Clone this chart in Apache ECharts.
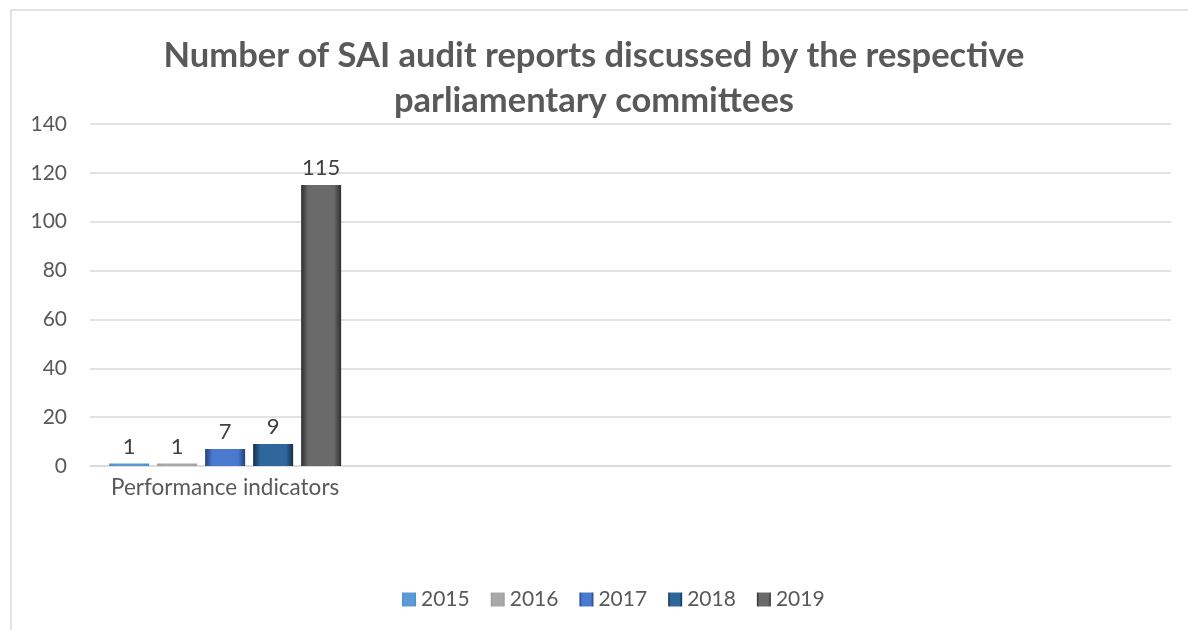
<!DOCTYPE html>
<html><head><meta charset="utf-8">
<script src="https://cdn.jsdelivr.net/npm/echarts@6/dist/echarts.min.js"></script>
<style>html,body{margin:0;padding:0;background:#fff}#c{width:1188px;height:630px}</style>
</head><body><div id="c"></div>
<script>
const titleText = 'Number of SAI audit reports discussed by the respective\nparliamentary committees';
const categories = ['Performance indicators', ' ', '  ', '   '];
const years = ['2015', '2016', '2017', '2018', '2019'];
const values = [1, 1, 7, 9, 115];
const yTicks = { min: 0, max: 140, interval: 20 };

const styles = [
  { edge: '#4f8fcf', mid: '#5b9bd5' },
  { edge: '#9e9e9e', mid: '#a8a8a8' },
  { edge: '#253f78', mid: '#4a7ad0' },
  { edge: '#142f4a', mid: '#2d679c' },
  { edge: '#2e2e2e', mid: '#6a6a6a' }
];
function grad(s) {
  return new echarts.graphic.LinearGradient(0, 0, 1, 0, [
    { offset: 0, color: s.edge }, { offset: 0.18, color: s.mid },
    { offset: 0.82, color: s.mid }, { offset: 1, color: s.edge }
  ]);
}
const FONT = 'Lato, "Liberation Sans", sans-serif';
const chart = echarts.init(document.getElementById('c'));
chart.setOption({
  animation: false,
  title: {
    text: titleText, left: 'center', top: 28,
    textStyle: { fontFamily: FONT, fontSize: 34.5, fontWeight: 'bold', color: '#595959', lineHeight: 45 }
  },
  graphic: [{ type: 'rect', shape: { x: 11, y: 10, width: 1200, height: 650 }, style: { fill: 'none', stroke: '#d9d9d9', lineWidth: 1.5 }, silent: true, z: -1 }],
  legend: {
    bottom: 15, left: 397, icon: 'rect', itemWidth: 14, itemHeight: 14, itemGap: 21,
    textStyle: { fontFamily: FONT, fontSize: 21, color: '#595959' },
    data: years
  },
  grid: { left: 90, right: 17, top: 124, bottom: 164 },
  xAxis: {
    type: 'category', data: categories,
    axisLine: { lineStyle: { color: '#d9d9d9', width: 1.5 } },
    axisTick: { show: false },
    axisLabel: { fontFamily: FONT, fontSize: 22.5, color: '#595959', margin: 10 }
  },
  yAxis: {
    type: 'value', min: yTicks.min, max: yTicks.max, interval: yTicks.interval,
    axisLine: { show: false }, axisTick: { show: false },
    splitLine: { lineStyle: { color: '#d9d9d9', width: 1.5 } },
    axisLabel: { fontFamily: FONT, fontSize: 21, color: '#595959', margin: 23 }
  },
  series: years.map((y, i) => ({
    name: y, type: 'bar', barWidth: 40, barGap: '20%',
    data: categories.map((c, k) => k === 0 ? values[i] : '-'),
    itemStyle: { color: grad(styles[i]) },
    label: { show: true, position: 'top', distance: 6, fontFamily: FONT, fontSize: 22, color: '#404040' }
  }))
});
</script></body></html>
